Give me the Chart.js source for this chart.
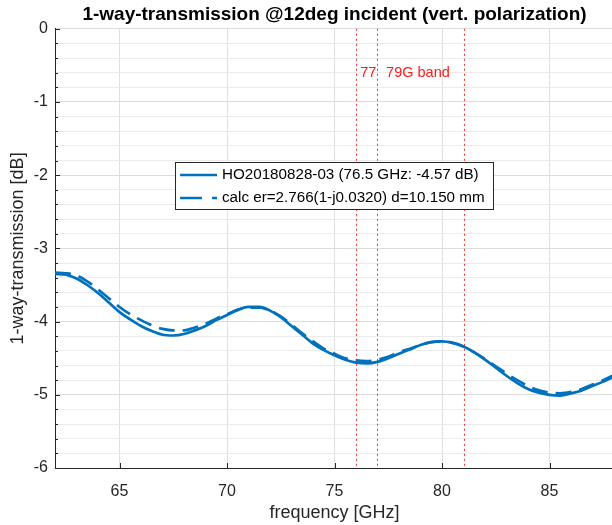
<!DOCTYPE html>
<html>
<head>
<meta charset="utf-8">
<script src="https://cdn.jsdelivr.net/npm/chart.js@4/dist/chart.umd.min.js"></script>
<style>
html,body{margin:0;padding:0;background:#fff;overflow:hidden;width:612px;height:525px;}
#wrap{position:relative;width:614px;height:525px;}
</style>
</head>
<body>
<div id="wrap"><canvas id="c"></canvas></div>
<script>
const freqGHz = [62,62.5,63,63.5,64,64.5,65,65.5,66,66.5,67,67.5,68,68.5,69,69.5,70,70.5,71,71.5,72,72.5,73,73.5,74,74.5,75,75.5,76,76.5,77,77.5,78,78.5,79,79.5,80,80.5,81,81.5,82,82.5,83,83.5,84,84.5,85,85.5,86,86.5,87,87.5,88];
const measuredDb = [-3.35,-3.36,-3.41,-3.50,-3.61,-3.74,-3.87,-3.97,-4.06,-4.13,-4.18,-4.19,-4.17,-4.12,-4.06,-3.98,-3.91,-3.84,-3.80,-3.80,-3.85,-3.94,-4.06,-4.18,-4.30,-4.39,-4.46,-4.52,-4.56,-4.57,-4.55,-4.50,-4.44,-4.38,-4.32,-4.28,-4.27,-4.29,-4.34,-4.42,-4.52,-4.63,-4.74,-4.84,-4.92,-4.97,-5.00,-5.01,-4.98,-4.94,-4.88,-4.82,-4.75];
const calcDb = [-3.33,-3.34,-3.37,-3.45,-3.56,-3.68,-3.80,-3.90,-3.98,-4.05,-4.10,-4.12,-4.12,-4.08,-4.03,-3.96,-3.90,-3.84,-3.81,-3.81,-3.85,-3.93,-4.04,-4.16,-4.27,-4.37,-4.44,-4.50,-4.53,-4.54,-4.52,-4.48,-4.42,-4.37,-4.32,-4.28,-4.27,-4.29,-4.34,-4.42,-4.51,-4.61,-4.71,-4.80,-4.88,-4.94,-4.97,-4.98,-4.96,-4.92,-4.86,-4.80,-4.73];
const seriesLabels = ["HO20180828-03 (76.5 GHz: -4.57 dB)", "calc er=2.766(1-j0.0320) d=10.150 mm"];
const xTicks = [65,70,75,80,85];
const bandLines = [76,77,81];
const bandTexts = [{text:"77", x:76.2, y:-0.6}, {text:"79G band", x:77.4, y:-0.6}];

const FONT = "'Liberation Sans', Arial, Helvetica, sans-serif";
const AX = '#262626';
const BLUE = '#0072BD';

const overlay = {
  id: 'overlay',
  beforeDatasetsDraw(chart) {
    const {ctx, chartArea: a, scales: {x, y}} = chart;
    ctx.save();
    ctx.strokeStyle = '#ff3030';
    ctx.lineWidth = 1;
    ctx.setLineDash([2, 3]);
    bandLines.forEach(f => {
      const px = Math.round(x.getPixelForValue(f)) + 0.5;
      ctx.beginPath(); ctx.moveTo(px, a.top); ctx.lineTo(px, a.bottom); ctx.stroke();
    });
    ctx.setLineDash([]);
    ctx.fillStyle = '#ff1a1a';
    ctx.font = '14.5px ' + FONT;
    ctx.textBaseline = 'middle';
    ctx.textAlign = 'left';
    bandTexts.forEach(t => ctx.fillText(t.text, x.getPixelForValue(t.x), y.getPixelForValue(t.y)));
    ctx.restore();
  },
  afterDraw(chart) {
    const {ctx, chartArea: a, scales: {x, y}} = chart;
    ctx.save();
    ctx.strokeStyle = AX;
    ctx.lineWidth = 1;
    ctx.beginPath();
    for (let v = -6; v <= 0.001; v += 0.2) {
      const py = Math.round(y.getPixelForValue(v)) + 0.5;
      const major = Math.abs(v - Math.round(v)) < 1e-6;
      ctx.moveTo(a.left, py); ctx.lineTo(a.left + (major ? 5 : 3), py);
    }
    xTicks.forEach(f => {
      const px = Math.round(x.getPixelForValue(f)) + 0.5;
      ctx.moveTo(px, a.bottom); ctx.lineTo(px, a.bottom - 5);
    });
    ctx.stroke();
    // legend
    const lx = 175, ly = 162, lw = 318, lh = 47;
    ctx.fillStyle = '#fff';
    ctx.fillRect(lx, ly, lw, lh);
    ctx.strokeStyle = AX;
    ctx.strokeRect(lx + 0.5, ly + 0.5, lw, lh);
    ctx.strokeStyle = BLUE;
    ctx.lineWidth = 2.5;
    ctx.beginPath(); ctx.moveTo(180, 175); ctx.lineTo(217, 175); ctx.stroke();
    ctx.setLineDash([22, 10]);
    ctx.beginPath(); ctx.moveTo(180, 198); ctx.lineTo(217, 198); ctx.stroke();
    ctx.setLineDash([]);
    ctx.fillStyle = '#000';
    ctx.font = '15.2px ' + FONT;
    ctx.textBaseline = 'middle';
    ctx.textAlign = 'left';
    ctx.fillText(seriesLabels[0], 222, 175);
    ctx.fillText(seriesLabels[1], 222, 198);
    ctx.restore();
  }
};

new Chart(document.getElementById('c'), {
  type: 'line',
  data: {
    labels: freqGHz,
    datasets: [
      {label: seriesLabels[0], data: freqGHz.map((f,i)=>({x:f, y:measuredDb[i]})), borderColor: BLUE, borderWidth: 2.7, pointRadius: 0, tension: 0.4, cubicInterpolationMode: 'monotone', fill: false},
      {label: seriesLabels[1], data: freqGHz.map((f,i)=>({x:f, y:calcDb[i]})), borderColor: BLUE, borderWidth: 2.7, borderDash: [16, 8], pointRadius: 0, tension: 0.4, cubicInterpolationMode: 'monotone', fill: false}
    ]
  },
  options: {
    responsive: true,
    maintainAspectRatio: false,
    animation: false,
    layout: {padding: 0},
    plugins: {
      legend: {display: false},
      tooltip: {enabled: false},
      title: {
        display: true,
        text: '1-way-transmission @12deg incident (vert. polarization)',
        color: '#000',
        fullSize: false,
        font: {family: FONT, size: 19, weight: 'bold', lineHeight: 1.2},
        padding: {top: 3, bottom: 3}
      }
    },
    scales: {
      x: {
        type: 'linear', min: 62, max: 88,
        afterBuildTicks: s => { s.ticks = xTicks.map(v => ({value: v})); },
        afterFit: s => { s.height = 57; },
        grid: {color: '#e0e0e0', drawTicks: false, lineWidth: 1},
        border: {display: true, color: AX, width: 1},
        ticks: {color: AX, font: {family: FONT, size: 16}, padding: 14, maxRotation: 0},
        title: {display: true, text: 'frequency [GHz]', color: AX, font: {family: FONT, size: 18, lineHeight: 1.2}, padding: {top: 0, bottom: 1}}
      },
      y: {
        type: 'linear', min: -6, max: 0,
        afterFit: s => { s.width = 55; },
        ticks: {
          stepSize: 0.2, autoSkip: false, color: AX, font: {family: FONT, size: 16}, padding: 7,
          callback: v => Math.abs(v - Math.round(v)) < 1e-6 ? String(Math.round(v)) : ''
        },
        grid: {
          drawTicks: false, lineWidth: 1,
          color: c => Math.abs(c.tick.value - Math.round(c.tick.value)) < 1e-6 ? '#dcdcdc' : '#ebebeb'
        },
        border: {display: true, color: AX, width: 1},
        title: {display: true, text: '1-way-transmission [dB]', color: AX, font: {family: FONT, size: 18, lineHeight: 1.2}, padding: {top: 7, bottom: 0}}
      }
    }
  },
  plugins: [overlay]
});
</script>
</body>
</html>
